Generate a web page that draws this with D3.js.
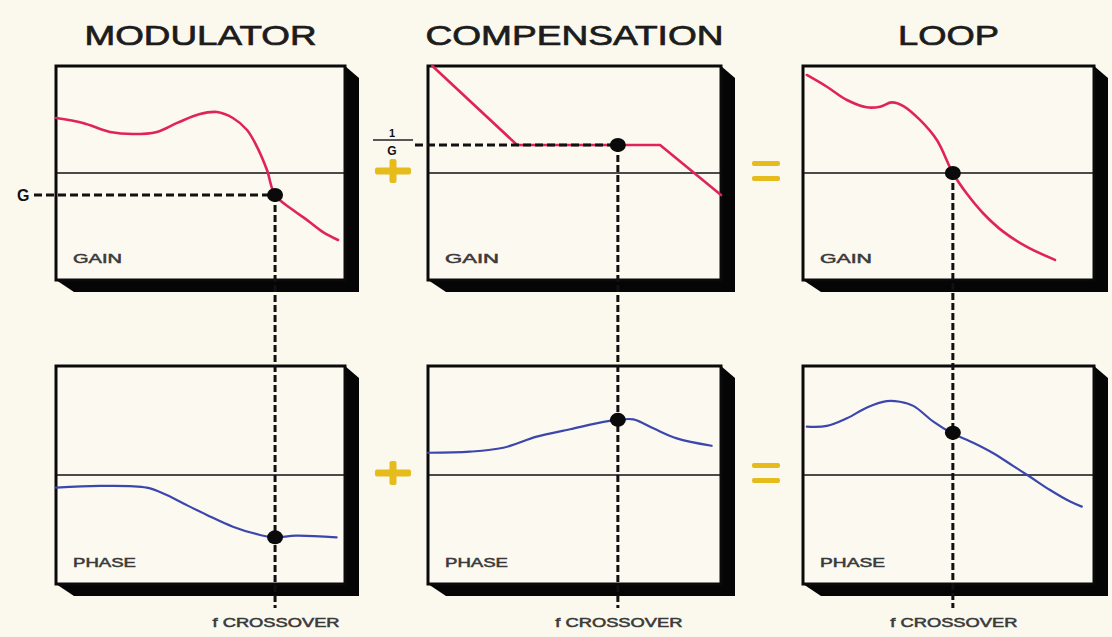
<!DOCTYPE html>
<html>
<head>
<meta charset="utf-8">
<script src="https://cdn.jsdelivr.net/npm/d3@7"></script>
<style>
  html, body { margin: 0; padding: 0; background: #fbf8ee; }
  svg { display: block; }
</style>
</head>
<body>
<div id="chart"></div>
<script>
// Column titles and panel labels
const titles = ["MODULATOR", "COMPENSATION", "LOOP"];
const rowLabels = ["GAIN", "PHASE"];
const crossoverLabel = "f CROSSOVER";

// Curves, x = 0..100 across the panel, y = -50..50 with 0 on the mid line
const modulatorGain = [[0, 25.7], [9.3, 23.4], [18.7, 19.2], [26.6, 18.2], [34.9, 19.2], [41.9, 23.4],
  [49.8, 27.6], [55.7, 28.5], [61.2, 25.7], [66.1, 20.1], [69.6, 12.1], [73, 1.4], [75.8, -10.3],
  [82, -17.3], [86.9, -22], [92.4, -27.6], [97.6, -31.3]];
const modulatorPhase = [[0, -5.8], [15.2, -5], [31.4, -5.8], [38.3, -9.2], [45.2, -13.8], [52.2, -18.3],
  [61.2, -23.7], [70.6, -27.5], [75.8, -28.6], [83, -27.8], [97.1, -28.6]];
const compensationGain = [[1.5, 50], [30.4, 13.1], [79.2, 13.1], [100, -10.3]];
const compensationPhase = [[0, 10.2], [14.3, 10.7], [25.7, 12.5], [37.1, 17.6], [48.5, 21], [59.9, 24.4],
  [64.8, 25.3], [70.1, 25.5], [76.9, 21.4], [84.9, 16.8], [96.8, 13.4]];
const loopGain = [[1.3, 45.8], [8.2, 40.3], [15.1, 34.1], [21.9, 30.7], [26.5, 31], [30.5, 33], [34.5, 31.3],
  [40.2, 24.8], [46, 15.4], [51.5, 0], [56.2, -9.5], [61.9, -18.8], [68.8, -27.4], [76.8, -34.4], [86.6, -40.6]];
const loopPhase = [[1.3, 22.2], [8.2, 22.5], [15.1, 26], [22, 31], [28.8, 33.9], [33.3, 33.6], [37.9, 31.7],
  [44.8, 24.5], [50.9, 19.4], [58.5, 14.8], [65.4, 10], [72.3, 4.1], [78, -0.8], [84.9, -6.9],
  [91.8, -12.2], [95.8, -14.5]];

// Crossover markers per column: x, gain value, phase value
const crossoverX = [75.8, 64.8, 51.5];
const gainDots = [-10.3, 13.1, 0];
const phaseDots = [-28.6, 25.3, 19.4];
const gainLevelLabels = ["G", "1/G", null];
const operators = [null, "+", "="];

const W = 1112, H = 637;
const bg = "#fbf8ee";
const red = "#e0245a", blue = "#3b47ad", gold = "#e6bb1c";
const font = "Liberation Sans, Arial, sans-serif";

const svg = d3.select("#chart").append("svg").attr("width", W).attr("height", H);
svg.append("rect").attr("width", W).attr("height", H).attr("fill", bg);

const cols = [[56, 345], [428, 721], [803, 1094]];
const rows = [[66, 280], [366, 584]];
const series = [[modulatorGain, modulatorPhase], [compensationGain, compensationPhase], [loopGain, loopPhase]];
const titleWidths = [232, 298, 101];
const labelWidths = [[49, 63], [54, 63], [52, 65]];

cols.forEach((c, ci) => {
    const x = d3.scaleLinear().domain([0, 100]).range(c);
    const midX = (c[0] + c[1]) / 2;

    svg.append("text")
        .attr("x", midX).attr("y", 45)
        .attr("text-anchor", "middle")
        .attr("font-family", font)
        .attr("font-size", 28)
        .attr("fill", "#1c1c1c")
        .attr("stroke", "#1c1c1c").attr("stroke-width", 0.7)
        .attr("textLength", titleWidths[ci])
        .attr("lengthAdjust", "spacingAndGlyphs")
        .text(titles[ci]);

    const ys = [];
    rows.forEach((r, ri) => {
        const y = d3.scaleLinear().domain([-50, 50]).range([r[1], r[0]]);
        ys.push(y);
        const g = svg.append("g");
        const dx = 14, dy = 12;

        // drop shadow
        g.append("polygon")
            .attr("points", [[c[1], r[0]], [c[1] + dx, r[0] + dy], [c[1] + dx, r[1] + dy],
                [c[0] + dx + 4, r[1] + dy], [c[0], r[1]]].map(p => p.join(",")).join(" "))
            .attr("fill", "#050505");
        g.append("rect")
            .attr("x", c[0]).attr("y", r[0])
            .attr("width", c[1] - c[0]).attr("height", r[1] - r[0])
            .attr("fill", "#fcf9f1")
            .attr("stroke", "#0a0a0a").attr("stroke-width", 3);
        g.append("line")
            .attr("x1", c[0]).attr("x2", c[1])
            .attr("y1", y(0)).attr("y2", y(0))
            .attr("stroke", "#111").attr("stroke-width", 1.6);

        const line = d3.line()
            .x(d => x(d[0])).y(d => y(d[1]))
            .curve(ci === 1 && ri === 0 ? d3.curveLinear : d3.curveCatmullRom.alpha(0.5));
        g.append("path")
            .datum(series[ci][ri])
            .attr("d", line)
            .attr("fill", "none")
            .attr("stroke", ri === 0 ? red : blue)
            .attr("stroke-width", ri === 0 ? 2.6 : 2.2)
            .attr("stroke-linejoin", "round")
            .attr("stroke-linecap", "round");

        g.append("text")
            .attr("x", c[0] + 17).attr("y", r[1] - 17)
            .attr("font-family", font)
            .attr("font-size", 13)
            .attr("fill", "#3a3a3a")
            .attr("stroke", "#3a3a3a").attr("stroke-width", 0.5)
            .attr("textLength", labelWidths[ci][ri])
            .attr("lengthAdjust", "spacingAndGlyphs")
            .text(rowLabels[ri]);
    });

    const cx = x(crossoverX[ci]);
    const gy = ys[0](gainDots[ci]);
    const py = ys[1](phaseDots[ci]);

    // horizontal level line for G and 1/G
    if (ci === 0) {
        svg.append("line")
            .attr("x1", 34).attr("x2", cx).attr("y1", gy).attr("y2", gy)
            .attr("stroke", "#111").attr("stroke-width", 3).attr("stroke-dasharray", "8,4");
        svg.append("text")
            .attr("x", 17).attr("y", gy + 6)
            .attr("font-family", font)
            .attr("font-size", 16).attr("font-weight", "bold").attr("fill", "#111")
            .text(gainLevelLabels[ci]);
    } else if (ci === 1) {
        svg.append("line")
            .attr("x1", 415).attr("x2", cx).attr("y1", gy).attr("y2", gy)
            .attr("stroke", "#111").attr("stroke-width", 3).attr("stroke-dasharray", "8,4");
        const [num, den] = gainLevelLabels[ci].split("/");
        svg.append("text")
            .attr("x", 392).attr("y", 137).attr("text-anchor", "middle")
            .attr("font-family", font)
            .attr("font-size", 11).attr("font-weight", "bold").attr("fill", "#111")
            .text(num);
        svg.append("line")
            .attr("x1", 373).attr("x2", 413).attr("y1", 140).attr("y2", 140)
            .attr("stroke", "#222").attr("stroke-width", 1.5);
        svg.append("text")
            .attr("x", 392).attr("y", 155).attr("text-anchor", "middle")
            .attr("font-family", font)
            .attr("font-size", 12).attr("font-weight", "bold").attr("fill", "#111")
            .text(den);
    }

    // vertical crossover line
    svg.append("line")
        .attr("x1", cx).attr("x2", cx).attr("y1", gy).attr("y2", 608)
        .attr("stroke", "#111").attr("stroke-width", 3).attr("stroke-dasharray", "7,3");

    [gy, py].forEach(v => {
        svg.append("ellipse")
            .attr("cx", cx).attr("cy", v).attr("rx", 8).attr("ry", 7)
            .attr("fill", "#0a0a0a");
    });

    svg.append("text")
        .attr("x", cx + 1).attr("y", 627).attr("text-anchor", "middle")
        .attr("font-family", font)
        .attr("font-size", 12).attr("fill", "#3a3a3a")
        .attr("stroke", "#3a3a3a").attr("stroke-width", 0.5)
        .attr("textLength", 127).attr("lengthAdjust", "spacingAndGlyphs")
        .text(crossoverLabel);

    // operator signs between columns
    if (operators[ci]) {
        const ox = ci === 1 ? 393 : 766;
        ys.forEach(y => {
            const oy = y(0) - 2;
            if (operators[ci] === "+") {
                svg.append("rect").attr("x", ox - 18).attr("y", oy - 3.5).attr("width", 36).attr("height", 7)
                    .attr("fill", gold).attr("rx", 2);
                svg.append("rect").attr("x", ox - 3.5).attr("y", oy - 12).attr("width", 7).attr("height", 24)
                    .attr("fill", gold).attr("rx", 2);
            } else {
                [-7.5, 7.5].forEach(d => {
                    svg.append("rect").attr("x", ox - 14).attr("y", oy + d - 2.5).attr("width", 28).attr("height", 5)
                        .attr("fill", gold).attr("rx", 2);
                });
            }
        });
    }
});
</script>
</body>
</html>
